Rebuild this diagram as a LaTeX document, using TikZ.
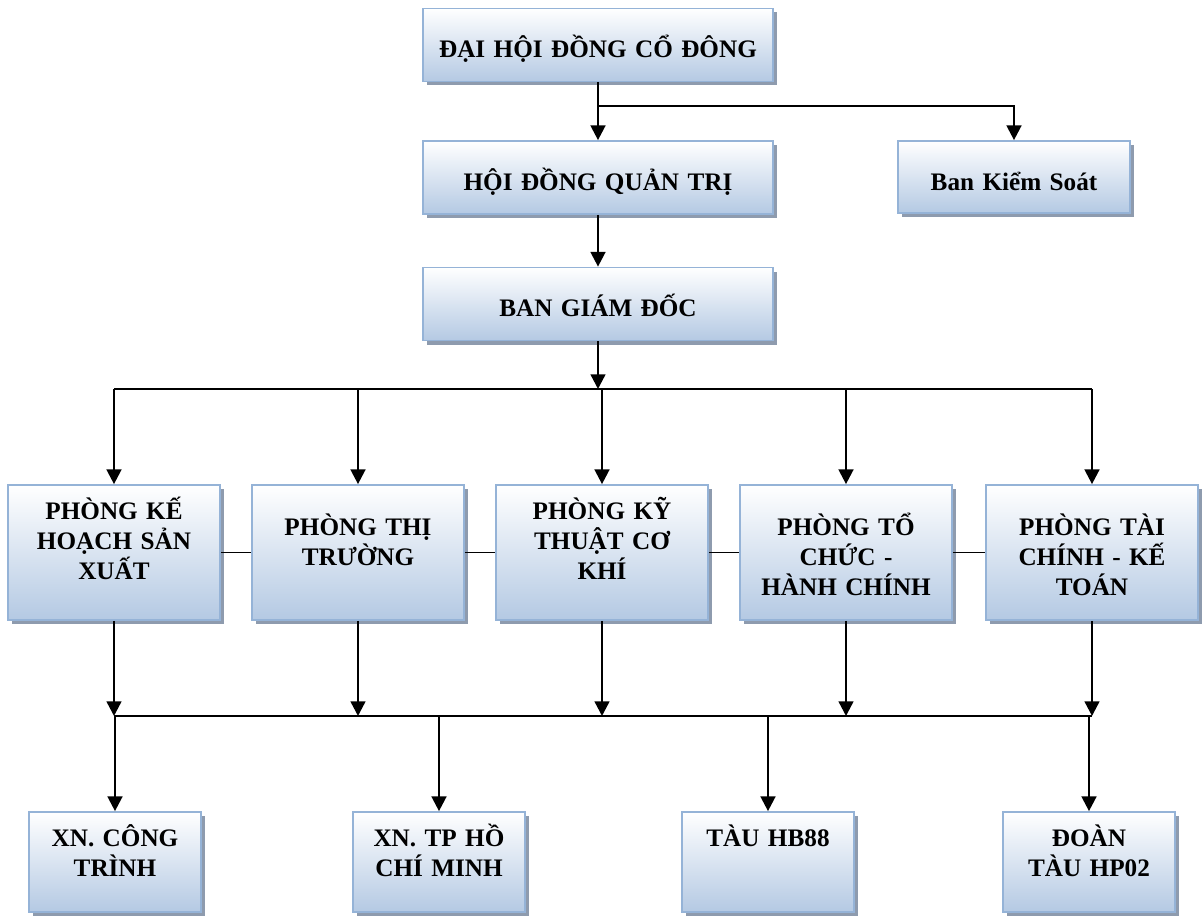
\documentclass[tikz,border=0pt]{standalone}
\usepackage{fontspec}
\setmainfont{Liberation Serif}
\usepackage{tikz}
\usetikzlibrary{arrows.meta,shadows,positioning}
\definecolor{boxline}{HTML}{95B3D7}
\definecolor{boxblue}{HTML}{B4C9E3}
\definecolor{boxshade}{HTML}{8E9BAE}

\begin{document}
\begin{tikzpicture}[x=0.75pt,y=-0.75pt,>={Triangle[length=11pt,width=11pt]},
  unit/.style={draw=boxline,line width=1.3pt,top color=white,bottom color=boxblue,
    drop shadow={shadow xshift=3pt,shadow yshift=-3pt,fill=boxshade,opacity=1},
    inner sep=0pt,align=center,font=\fontsize{18.9}{22.5}\selectfont\bfseries},
  lead/.style={unit,text width=262.5pt,text height=36.75pt,text depth=18pt},
  check/.style={unit,text width=174pt,text height=36.75pt,text depth=17.25pt},
  dept/.style={unit,text width=159pt,text height=37.9pt,text depth=63.35pt},
  depthi/.style={unit,text width=159pt,text height=26pt,text depth=75.25pt},
  branch/.style={unit,text width=129pt,text height=25.9pt,text depth=49.1pt},
  link/.style={line width=1.8pt},
  bus/.style={line width=1.2pt}]
  \useasboundingbox (0,0) rectangle (1202,917);

  \node[lead]  (dh)   at (598,45)    {ĐẠI HỘI ĐỒNG CỔ ĐÔNG};
  \node[lead]  (hdqt) at (598,177.5) {HỘI ĐỒNG QUẢN TRỊ};
  \node[check] (bks)  at (1014,177)  {Ban Kiểm Soát};
  \node[lead]  (bgd)  at (598,304)   {BAN GIÁM ĐỐC};

  \node[depthi] (p1) at (114,552.5)  {PHÒNG KẾ\\HOẠCH SẢN\\XUẤT};
  \node[dept]   (p2) at (358,552.5)  {PHÒNG THỊ\\TRƯỜNG};
  \node[depthi] (p3) at (602,552.5)  {PHÒNG KỸ\\THUẬT CƠ\\KHÍ};
  \node[dept]   (p4) at (846,552.5)  {PHÒNG TỔ\\CHỨC -\\HÀNH CHÍNH};
  \node[dept]   (p5) at (1092,552.5) {PHÒNG TÀI\\CHÍNH - KẾ\\TOÁN};

  \node[branch] (b1) at (115,862)  {XN. CÔNG\\TRÌNH};
  \node[branch] (b2) at (439,862)  {XN. TP HỒ\\CHÍ MINH};
  \node[branch] (b3) at (768,862)  {TÀU HB88};
  \node[branch] (b4) at (1089,862) {ĐOÀN\\TÀU HP02};

  \coordinate (fork) at (dh.south |- 0,106);
  \coordinate (busA) at (bgd.south |- 0,389);
  \coordinate (busB) at (0,716);

  \draw[link,->] (dh) -- (hdqt);
  \draw[link,->] (fork) -| (bks);
  \draw[link,->] (hdqt) -- (bgd);
  \draw[link,->] (bgd) -- (busA);
  \draw[bus] (p1 |- busA) -- (p5 |- busA);
  \foreach \i in {1,...,5}
    \draw[link,->] (p\i |- busA) -- (p\i);
  \foreach \i [count=\j from 2] in {1,...,4}
    \draw[bus] (p\i) -- (p\j);
  \foreach \i in {1,...,5}
    \draw[link,->] (p\i) -- (p\i |- busB);
  \draw[bus] (p1 |- busB) -- (p5 |- busB);
  \foreach \i in {1,...,4}
    \draw[link,->] (b\i |- busB) -- (b\i);
\end{tikzpicture}
\end{document}
